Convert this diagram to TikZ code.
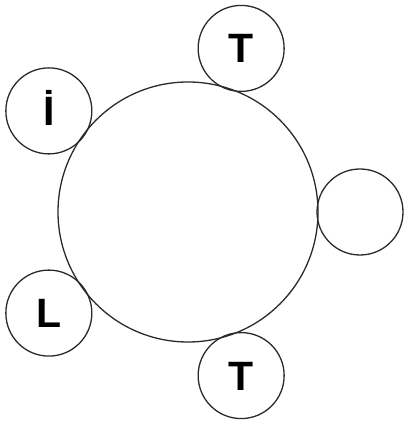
\documentclass[tikz,border=0pt]{standalone}
\usepackage{fontspec}
\setsansfont{Liberation Sans}
\usetikzlibrary{calc}
\definecolor{rim}{HTML}{2A2A2A}
\tikzset{
  hubring/.style={circle, draw=rim, line width=1.3pt, minimum size=260pt, inner sep=0pt},
  seat/.style={circle, draw=rim, line width=1.3pt, minimum size=86pt, inner sep=0pt,
               font=\sffamily\bfseries\fontsize{41}{41}\selectfont,
               text height=29pt, text depth=0pt}}
\begin{document}
\begin{tikzpicture}[x=1pt,y=1pt]
  \useasboundingbox (0,0) rectangle (406,425);
  \node[hubring] (hub) at (188,213) {};
  % seats round the hub, one every 72 degrees
  \node[seat] (east)  at ($(hub)+(0:172)$)   {};
  \node[seat] (tup)   at ($(hub)+(72:172)$)  {T};
  \node[seat] (idot)  at ($(hub)+(144:172)$) {İ};
  \node[seat] (ell)   at ($(hub)+(216:172)$) {L};
  \node[seat] (tdown) at ($(hub)+(288:172)$) {T};
\end{tikzpicture}
\end{document}
